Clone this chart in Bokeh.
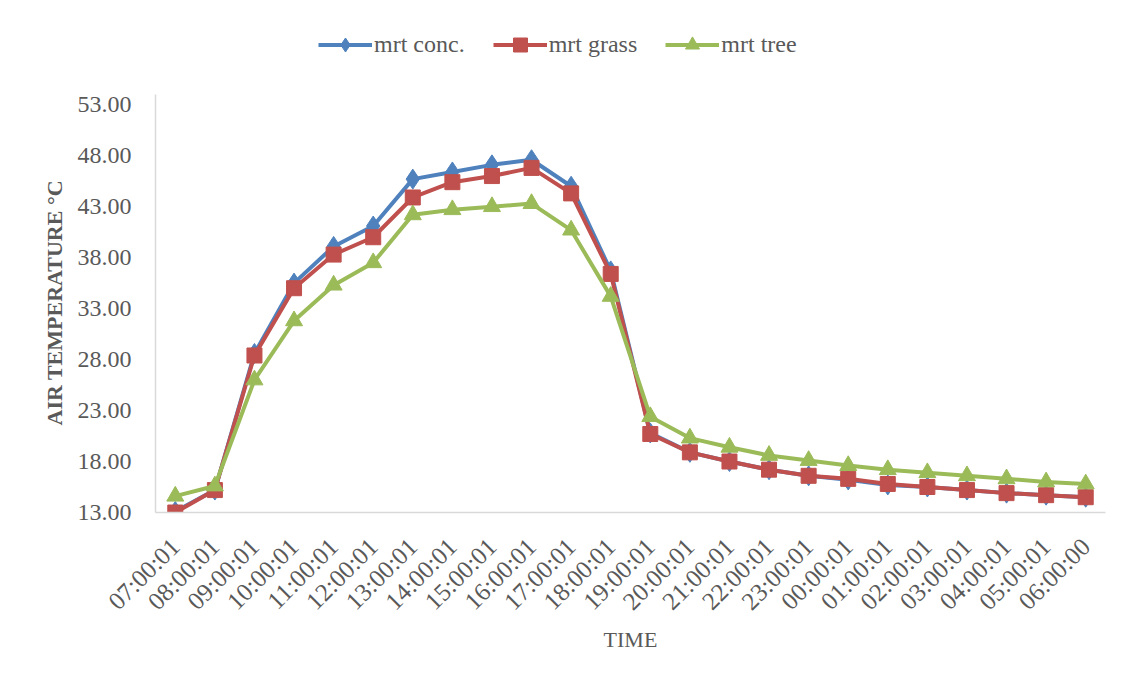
from bokeh.plotting import figure
from bokeh.models import FactorRange, Range1d, Legend, LegendItem, FixedTicker, NumeralTickFormatter, Title
from bokeh.embed import file_html
from bokeh.resources import INLINE
import math

times = ["07:00:01", "08:00:01", "09:00:01", "10:00:01", "11:00:01", "12:00:01",
         "13:00:01", "14:00:01", "15:00:01", "16:00:01", "17:00:01", "18:00:01",
         "19:00:01", "20:00:01", "21:00:01", "22:00:01", "23:00:01", "00:00:01",
         "01:00:01", "02:00:01", "03:00:01", "04:00:01", "05:00:01", "06:00:00"]

mrt_conc = [13.1, 15.2, 28.6, 35.5, 39.1, 41.1, 45.7, 46.4, 47.1, 47.6, 45.0, 36.7,
            20.8, 18.9, 18.0, 17.2, 16.6, 16.2, 15.7, 15.5, 15.2, 14.9, 14.7, 14.5]
mrt_grass = [13.0, 15.2, 28.4, 35.0, 38.3, 40.0, 43.9, 45.4, 46.0, 46.8, 44.3, 36.4,
             20.7, 18.9, 18.0, 17.2, 16.6, 16.3, 15.8, 15.5, 15.2, 14.9, 14.7, 14.5]
mrt_tree = [14.6, 15.6, 26.0, 31.8, 35.3, 37.5, 42.2, 42.7, 43.0, 43.3, 40.7, 34.2,
            22.4, 20.3, 19.4, 18.6, 18.1, 17.6, 17.2, 16.9, 16.6, 16.3, 16.0, 15.8]

y_ticks = [13, 18, 23, 28, 33, 38, 43, 48, 53]
y_axis_min, y_axis_max = 13, 54

FONT = "Liberation Serif"
TXT = "#595959"
AX = "#d9d9d9"

# frame: bottom at y=512, axis top (54) at y=94 -> 418 px for 41 units;
# extend the frame upward to y=20 so the legend row fits inside it
px_per_unit = 418 / (y_axis_max - y_axis_min)
y_top = y_axis_min + (512 - 20) / px_per_unit

p = figure(width=1126, height=686, x_range=FactorRange(*times), y_range=Range1d(y_axis_min, y_top),
           output_backend="svg", toolbar_location=None,
           min_border_left=155, min_border_right=21, min_border_top=20, min_border_bottom=174)

p.xgrid.visible = False
p.ygrid.visible = False
p.outline_line_color = None

for ax in (p.xaxis[0], p.yaxis[0]):
    ax.axis_line_color = AX
    ax.axis_line_width = 1.5
    ax.major_tick_line_color = None
    ax.minor_tick_line_color = None
    ax.major_label_text_font = FONT
    ax.major_label_text_color = TXT
    ax.axis_label_text_font = FONT
    ax.axis_label_text_color = TXT
    ax.axis_label_text_font_size = "22px"

p.yaxis.bounds = (y_axis_min, y_axis_max)
p.yaxis.ticker = FixedTicker(ticks=y_ticks)
p.yaxis.formatter = NumeralTickFormatter(format="0.00")
p.yaxis.major_label_text_font_size = "24px"
p.yaxis.major_label_standoff = 18

ytitle = Title(text="AIR TEMPERATURE °C", align="left", offset=87, standoff=15,
               text_font=FONT, text_font_size="22px", text_color=TXT, text_font_style="bold")
p.add_layout(ytitle, "left")

p.xaxis.major_label_text_font_size = "25px"
p.xaxis.major_label_orientation = math.pi / 4
p.xaxis.major_label_standoff = 24
p.xaxis.axis_label = "TIME"
p.xaxis.axis_label_text_font_style = "normal"
p.xaxis.axis_label_standoff = 0

series = [
    ("mrt conc.", mrt_conc, "#4F81BD", "diamond", 20),
    ("mrt grass", mrt_grass, "#C0504D", "square", 15),
    ("mrt tree", mrt_tree, "#9BBB59", "triangle", 17),
]

items = []
for name, vals, col, mk, sz in series:
    l = p.line(times, vals, line_color=col, line_width=4)
    s = p.scatter(times, vals, marker=mk, size=sz, fill_color=col, line_color=col)
    items.append(LegendItem(label=name, renderers=[l, s]))

legend = Legend(items=items, orientation="horizontal", location=(163, 450),
                glyph_width=54, glyph_height=35, label_standoff=2, spacing=28,
                padding=0, margin=0, border_line_color=None, background_fill_alpha=0,
                label_text_font=FONT, label_text_font_size="24px", label_text_color=TXT)
p.add_layout(legend, "center")

open("out.html", "w").write(file_html(p, INLINE))
